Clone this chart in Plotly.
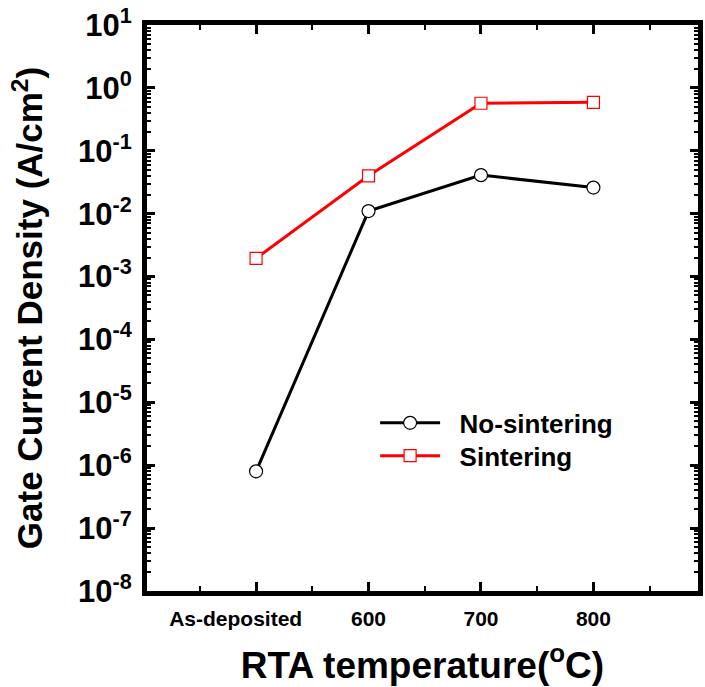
import plotly.graph_objects as go

x_pos = [500, 600, 700, 800]
x_labels = ["As-deposited" + "\u00a0" * 7, "600", "700", "800"]
no_sintering = [8e-7, 1.1e-2, 4.1e-2, 2.6e-2]
sintering = [1.95e-3, 4.0e-2, 0.57, 0.59]

y_major = [10.0 ** k for k in range(-8, 2)]
y_text = ["10<sup>%d</sup>" % k for k in range(-8, 2)]
y_minor = [m * 10.0 ** k for k in range(-8, 1) for m in range(2, 10)]

font = "Liberation Sans, Arial, sans-serif"
pad = "\u00a0\u00a0"

fig = go.Figure()
fig.add_trace(go.Scatter(
    x=x_pos, y=no_sintering, name=pad + "No-sintering", mode="lines+markers",
    line=dict(color="black", width=3),
    marker=dict(symbol="circle", size=13, color="white", line=dict(color="black", width=1.2)),
    legend="legend",
))
fig.add_trace(go.Scatter(
    x=x_pos, y=sintering, name=pad + "Sintering", mode="lines+markers",
    line=dict(color="#ff0000", width=3),
    marker=dict(symbol="square", size=12, color="white", line=dict(color="#ff0000", width=1.2)),
    legend="legend2",
))

leg_common = dict(xanchor="left", yanchor="middle",
                  font=dict(family=font, size=26, color="black", weight="bold"),
                  bgcolor="rgba(0,0,0,0)", itemwidth=60)

fig.update_layout(
    width=705, height=687,
    margin=dict(l=147, r=2, t=25, b=96),
    paper_bgcolor="white", plot_bgcolor="white",
    font=dict(family=font, color="black"),
    showlegend=True,
    legend=dict(x=0.414, y=0.297, **leg_common),
    legend2=dict(x=0.414, y=0.239, **leg_common),
)
fig.update_xaxes(
    range=[403, 893], showline=True, linecolor="black", linewidth=5, mirror="allticks",
    showgrid=False, zeroline=False,
    tickmode="array", tickvals=x_pos, ticktext=x_labels,
    ticks="inside", ticklen=9, tickwidth=3, tickcolor="black",
    ticklabelstandoff=5,
    tickfont=dict(family=font, size=21, weight="bold"),
    minor=dict(tickvals=[450, 550, 650, 750, 850], ticks="inside", ticklen=5, tickwidth=2, tickcolor="black"),
    title=dict(text="RTA temperature(<sup>o</sup>C)", font=dict(family=font, size=37, weight="bold"), standoff=24),
)
fig.update_yaxes(
    type="log", range=[-8, 1], showline=True, linecolor="black", linewidth=5, mirror="allticks",
    showgrid=False, zeroline=False,
    tickmode="array", tickvals=y_major, ticktext=y_text,
    ticks="inside", ticklen=8, tickwidth=3, tickcolor="black",
    ticklabelstandoff=4,
    tickfont=dict(family=font, size=31, weight="bold"),
    minor=dict(tickvals=y_minor, ticks="inside", ticklen=4, tickwidth=2, tickcolor="black"),
    title=dict(text="Gate Current Density (A/cm<sup>2</sup>)", font=dict(family=font, size=35, weight="bold"), standoff=26),
)
fig.write_html("out.html")
